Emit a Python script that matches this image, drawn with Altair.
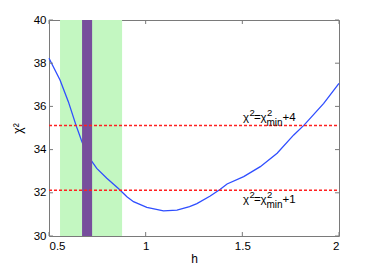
import altair as alt
import pandas as pd

# curve samples (h, chi^2)
h_vals = [0.5, 0.557, 0.6, 0.64, 0.669, 0.698, 0.747, 0.799, 0.859, 0.903, 0.937,
          1.006, 1.092, 1.162, 1.227, 1.265, 1.334, 1.386, 1.421, 1.507, 1.593,
          1.68, 1.766, 1.818, 1.921, 2.0]
chi_vals = [38.23, 37.22, 36.22, 35.12, 34.4, 33.75, 33.13, 32.67, 32.2, 31.82, 31.59,
            31.33, 31.16, 31.2, 31.36, 31.5, 31.85, 32.16, 32.41, 32.75, 33.21,
            33.83, 34.68, 35.12, 36.14, 37.07]

# shaded bands
green_band = [0.557, 0.878]
purple_band = [0.671, 0.723]

# threshold lines
chi_min = 31.12
deltas = [4, 1]
levels = [chi_min + d for d in deltas]
level_labels = ["+4", "+1"]
label_h = 1.503

x_ticks = [0.5, 1, 1.5, 2]
y_ticks = [30, 32, 34, 36, 38, 40]
x_dom = [0.5, 2]
y_dom = [30, 40]

W, H = 290, 216
FONT = "Liberation Sans"

xs = alt.Scale(domain=x_dom, nice=False, zero=False)
ys = alt.Scale(domain=y_dom, nice=False, zero=False)

curve = pd.DataFrame({"h": h_vals, "chi": chi_vals})
green_df = pd.DataFrame({"x0": [green_band[0]], "x1": [green_band[1]],
                         "y0": [y_dom[0]], "y1": [y_dom[1]]})
purple_df = pd.DataFrame({"x0": [purple_band[0]], "x1": [purple_band[1]],
                          "y0": [y_dom[0]], "y1": [y_dom[1]]})

green_layer = alt.Chart(green_df).mark_rect(color="#C3F7C1").encode(
    x=alt.X("x0:Q", scale=xs, title="h",
            axis=alt.Axis(values=x_ticks, format="~g", labelPadding=4, titlePadding=2)),
    x2="x1:Q",
    y=alt.Y("y0:Q", scale=ys, title="χ²",
            axis=alt.Axis(values=y_ticks, labelPadding=3, titlePadding=9)),
    y2="y1:Q",
)
purple_layer = alt.Chart(purple_df).mark_rect(color="#774E9C").encode(
    x=alt.X("x0:Q", scale=xs), x2="x1:Q",
    y=alt.Y("y0:Q", scale=ys), y2="y1:Q",
)

curve_layer = alt.Chart(curve).mark_line(color="#2F4EFF", strokeWidth=1.3).encode(
    x=alt.X("h:Q", scale=xs), y=alt.Y("chi:Q", scale=ys))

lines = pd.DataFrame({"lvl": levels, "x0": [x_dom[0]] * 2, "x1": [x_dom[1]] * 2})
line_layer = alt.Chart(lines).mark_rule(color="#FF2020", strokeWidth=1.5,
                                        strokeDash=[3, 2]).encode(
    x=alt.X("x0:Q", scale=xs), x2="x1:Q", y=alt.Y("lvl:Q", scale=ys))

# label anchor (baseline) positions: upper above its line, lower below its line
lab = pd.DataFrame({
    "h": [label_h, label_h],
    "yb": [levels[0] + 0.21, levels[1] - 0.58],
    "suf": level_labels,
})

def piece(text, dx, dy, size, field=None):
    m = alt.Chart(lab).mark_text(align="left", baseline="alphabetic", dx=dx, dy=dy,
                                 fontSize=size, font=FONT, color="black")
    enc = dict(x=alt.X("h:Q", scale=xs), y=alt.Y("yb:Q", scale=ys))
    if field:
        enc["text"] = alt.Text(field + ":N")
    else:
        enc["text"] = alt.value(text)
    return m.encode(**enc)

text_layers = [
    piece("χ", 0, 0, 11.5),
    piece("2", 6.5, -4.5, 9.5),
    piece("=", 11, 0, 11.5),
    piece("χ", 17.5, 0, 11.5),
    piece("2", 24, -4.5, 9.5),
    piece("min", 23.5, 5.5, 10),
    piece("", 39.5, 0, 11.5, field="suf"),
]

# inward ticks on all four sides
tx = 4 / W * (x_dom[1] - x_dom[0])
ty = 4 / H * (y_dom[1] - y_dom[0])
xt = pd.DataFrame({"v": x_ticks * 2,
                   "a": [y_dom[0]] * len(x_ticks) + [y_dom[1]] * len(x_ticks),
                   "b": [y_dom[0] + ty] * len(x_ticks) + [y_dom[1] - ty] * len(x_ticks)})
yt = pd.DataFrame({"v": y_ticks * 2,
                   "a": [x_dom[0]] * len(y_ticks) + [x_dom[1]] * len(y_ticks),
                   "b": [x_dom[0] + tx] * len(y_ticks) + [x_dom[1] - tx] * len(y_ticks)})
xtick_layer = alt.Chart(xt).mark_rule(color="#7a7a7a", strokeWidth=1).encode(
    x=alt.X("v:Q", scale=xs), y=alt.Y("a:Q", scale=ys), y2="b:Q")
ytick_layer = alt.Chart(yt).mark_rule(color="#7a7a7a", strokeWidth=1).encode(
    y=alt.Y("v:Q", scale=ys), x=alt.X("a:Q", scale=xs), x2="b:Q")

chart = alt.layer(green_layer, curve_layer, purple_layer, line_layer, *text_layers,
                  xtick_layer, ytick_layer).properties(
    width=W, height=H,
    autosize=alt.AutoSizeParams(type="none"),
    padding={"left": 41, "top": 12, "right": 27, "bottom": 30},
).configure_view(stroke="#7a7a7a", strokeWidth=1).configure_axis(
    domain=False, ticks=False, grid=False,
    labelFont=FONT, labelFontSize=11.5, labelColor="black",
    titleFont=FONT, titleFontSize=12, titleFontWeight="normal", titleColor="black",
)

chart.save("out.html", embed_options={"renderer": "svg", "actions": False})
